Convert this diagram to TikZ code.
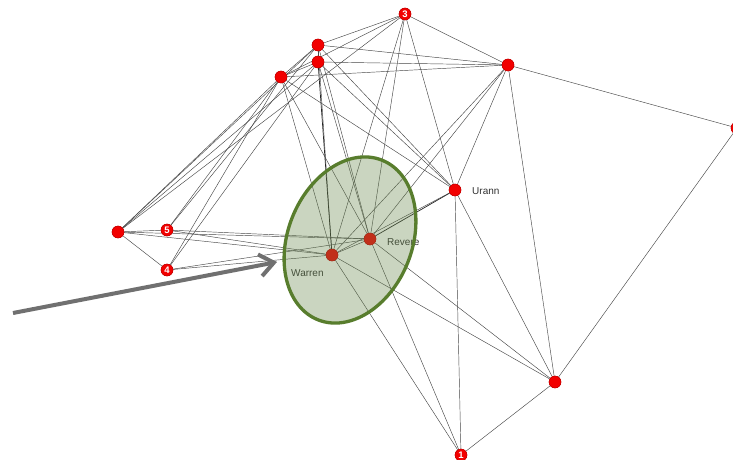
\documentclass[tikz,border=0pt]{standalone}
\usepackage{fontspec}
\setmainfont{Liberation Sans}
\usetikzlibrary{arrows.meta}
\definecolor{nodered}{RGB}{242,0,0}
\definecolor{nodeborder}{RGB}{190,0,0}
\definecolor{ellfill}{RGB}{104,135,75}
\definecolor{elldraw}{RGB}{88,125,45}
\definecolor{arrowgray}{RGB}{112,112,112}
\definecolor{lblgray}{RGB}{50,50,50}
\begin{document}
\begin{tikzpicture}[x=1pt,y=-1pt,
  vtx/.style={circle,fill=nodered,draw=nodeborder,line width=0.4pt,minimum size=12pt,inner sep=0pt,
    font=\bfseries\fontsize{9.5}{9.5}\selectfont,text=white},
  lbl/.style={anchor=west,inner sep=0pt,text=lblgray,font=\fontsize{10}{10}\selectfont},
  edge/.style={draw=black!72,line width=0.45pt},
  dedge/.style={draw=black!85,line width=0.7pt},
  bigarrow/.style={draw=arrowgray,line width=4pt,-{Straight Barb[length=14pt,width=22pt]}},
  halo/.style={draw=elldraw,line width=3.3pt,fill=ellfill,fill opacity=0.35}
]
\useasboundingbox (0,0) rectangle (733,460);
% vertices
\node[vtx] (n3) at (405,14) {3};
\node[vtx] (a) at (318,45) {};
\node[vtx] (b) at (318,62) {};
\node[vtx] (c) at (281,77) {};
\node[vtx] (d) at (508,65) {};
\node[vtx] (e) at (737,128) {};
\node[vtx] (ur) at (455,190) {};
\node[vtx] (rv) at (370,239) {};
\node[vtx] (wa) at (332,255) {};
\node[vtx] (f) at (118,232) {};
\node[vtx] (n5) at (167,230) {5};
\node[vtx] (n4) at (167,270) {4};
\node[vtx] (g) at (555,382) {};
\node[vtx] (n1) at (461,455) {1};
% labels
\node[lbl] (lur) at (472,191) {Urann};
\node[lbl] (lrv) at (387,242) {Revere};
\node[lbl] (lwa) at (291,273) {Warren};
% edges
\draw[edge] (n3) -- (a);
\draw[edge] (n3) -- (c);
\draw[edge] (n3) -- (f);
\draw[edge] (n3) -- (d);
\draw[edge] (n3) -- (wa);
\draw[edge] (n3) -- (rv);
\draw[edge] (n3) -- (ur);
\draw[edge] (a) -- (b);
\draw[edge] (a) -- (c);
\draw[edge] (a) -- (d);
\draw[edge] (a) -- (f);
\draw[edge] (a) -- (n5);
\draw[edge] (a) -- (wa);
\draw[edge] (a) -- (rv);
\draw[edge] (a) -- (ur);
\draw[edge] (b) -- (c);
\draw[edge] (b) -- (d);
\draw[edge] (b) -- (f);
\draw[edge] (b) -- (n4);
\draw[dedge] (b) -- (wa);
\draw[edge] (b) -- (rv);
\draw[edge] (b) -- (ur);
\draw[edge] (c) -- (d);
\draw[edge] (c) -- (f);
\draw[edge] (c) -- (n5);
\draw[edge] (c) -- (n4);
\draw[edge] (c) -- (wa);
\draw[edge] (c) -- (rv);
\draw[edge] (c) -- (ur);
\draw[edge] (d) -- (e);
\draw[edge] (d) -- (ur);
\draw[edge] (d) -- (wa);
\draw[edge] (d) -- (rv);
\draw[edge] (d) -- (g);
\draw[edge] (e) -- (g);
\draw[dedge] (ur) -- (rv);
\draw[edge] (ur) -- (wa);
\draw[edge] (ur) -- (n1);
\draw[edge] (ur) -- (g);
\draw[edge] (rv) -- (wa);
\draw[edge] (rv) -- (f);
\draw[edge] (rv) -- (n5);
\draw[edge] (rv) -- (n4);
\draw[edge] (rv) -- (g);
\draw[edge] (rv) -- (n1);
\draw[edge] (wa) -- (f);
\draw[edge] (wa) -- (n5);
\draw[edge] (wa) -- (n4);
\draw[edge] (wa) -- (g);
\draw[edge] (wa) -- (n1);
\draw[edge] (f) -- (n5);
\draw[edge] (f) -- (n4);
\draw[edge] (g) -- (n1);
% redraw vertices above edges
\foreach \v/\t in {n3/3,n5/5,n4/4,n1/1}{\node[vtx] at (\v) {\t};}
\foreach \v in {a,b,c,d,e,ur,rv,wa,f,g}{\node[vtx] at (\v) {};}
% highlight ellipse
\draw[halo,shift={(350,240)},rotate=68] (0,0) ellipse [x radius=86pt,y radius=62pt];
% pointer arrow
\coordinate (tail) at (13,313);
\coordinate (tip) at (277,262);
\draw[bigarrow] (tail) -- (tip);
\end{tikzpicture}
\end{document}
